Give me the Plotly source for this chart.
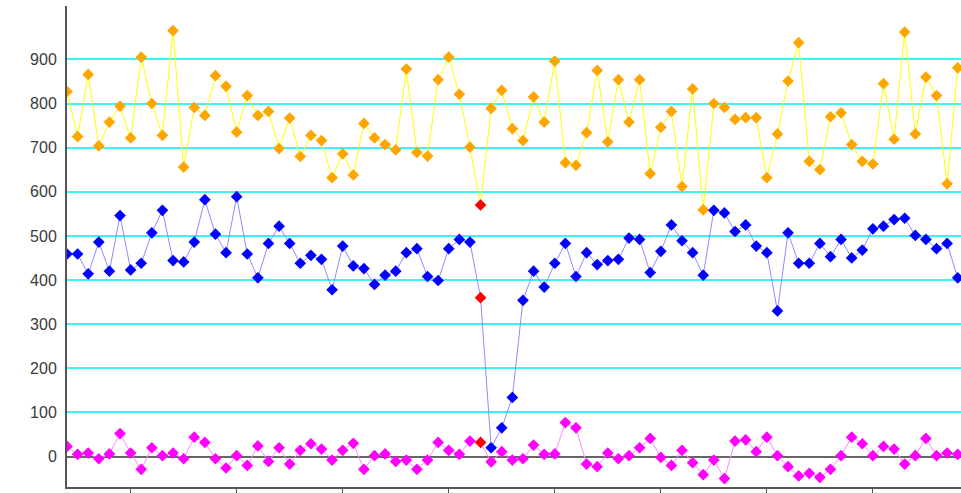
import plotly.graph_objects as go

# ---- data ----
index = list(range(85))

series_top = [827, 725, 866, 704, 758, 794, 722, 905, 800, 728,
              965, 656, 791, 773, 863, 839, 735, 818, 773, 782,
              698, 767, 680, 728, 716, 632, 686, 638, 755, 722,
              707, 695, 878, 689, 681, 854, 905, 821, 701, 570,
              789, 830, 743, 716, 815, 758, 896, 666, 660, 734,
              875, 713, 854, 758, 854, 641, 746, 782, 612, 833,
              559, 800, 791, 764, 768, 768, 632, 731, 851, 938,
              669, 650, 770, 779, 707, 669, 663, 845, 719, 962,
              731, 860, 818, 618, 881]

series_mid = [459, 459, 414, 486, 420, 546, 423, 438, 507, 558,
              444, 441, 486, 582, 504, 462, 589, 459, 405, 483,
              522, 483, 438, 456, 447, 378, 477, 432, 426, 390,
              411, 420, 462, 471, 408, 399, 471, 492, 486, 360,
              20, 65, 134, 354, 420, 384, 438, 483, 408, 462,
              435, 444, 447, 495, 492, 417, 465, 525, 489, 462,
              411, 558, 552, 510, 525, 477, 462, 330, 507, 438,
              438, 483, 453, 492, 450, 468, 516, 522, 537, 540,
              501, 492, 471, 483, 405]

series_low = [23, 5, 8, -5, 6, 52, 8, -29, 20, 2,
              8, -5, 44, 32, -5, -26, 2, -20, 24, -11,
              20, -17, 14, 29, 17, -8, 14, 30, -29, 2,
              6, -11, -8, -29, -8, 32, 14, 5, 35, 32,
              -12, 11, -8, -5, 26, 5, 6, 77, 65, -17,
              -23, 8, -5, 2, 20, 41, -2, -20, 14, -14,
              -41, -8, -50, 35, 38, 11, 44, 2, -23, -44,
              -38, -47, -29, 2, 44, 29, 2, 23, 17, -17,
              2, 41, 2, 8, 5]

flagged = [39]  # highlighted point(s)

y_ticks = [0, 100, 200, 300, 400, 500, 600, 700, 800, 900]
x_ticks = [6, 16, 26, 36, 46, 56, 66, 76]

FLAG = "#ff0000"


def marker_colors(n, base):
    return [FLAG if i in flagged else base for i in range(n)]


fig = go.Figure()
specs = [
    (series_top, "#ffff00", "#ffa500"),
    (series_mid, "#8c8cff", "#0000ff"),
    (series_low, "#ff88ff", "#ff00ff"),
]
for ys, lc, mc in specs:
    fig.add_trace(go.Scatter(
        x=index, y=ys, mode="lines+markers",
        line=dict(color=lc, width=1),
        marker=dict(symbol="diamond", size=9, color=marker_colors(len(ys), mc),
                    line=dict(width=0)),
        showlegend=False, hoverinfo="skip",
    ))

fig.update_layout(
    width=961, height=493,
    margin=dict(l=67, r=0, t=6, b=3),
    paper_bgcolor="white", plot_bgcolor="white",
    font=dict(family="Liberation Sans Narrow, Arial Narrow, Liberation Sans, sans-serif",
              size=16, color="#3a3a3a"),
    xaxis=dict(range=[0, 84.31], showgrid=False, zeroline=False,
               showline=True, linecolor="#555555", linewidth=2,
               tickvals=x_ticks, ticks="outside", ticklen=6, tickcolor="#555555",
               tickwidth=1, showticklabels=False),
    yaxis=dict(range=[-69, 1021], tickvals=y_ticks,
               showgrid=True, gridcolor="#3ff0f8", gridwidth=2,
               zeroline=True, zerolinecolor="#666666", zerolinewidth=2,
               showline=True, linecolor="#555555", linewidth=2,
               ticks="", ticklabelstandoff=5),
)

fig.write_html("out.html",
               config={"displayModeBar": False, "staticPlot": True},
               post_script="document.body.style.margin='0';document.body.style.overflow='hidden';")
